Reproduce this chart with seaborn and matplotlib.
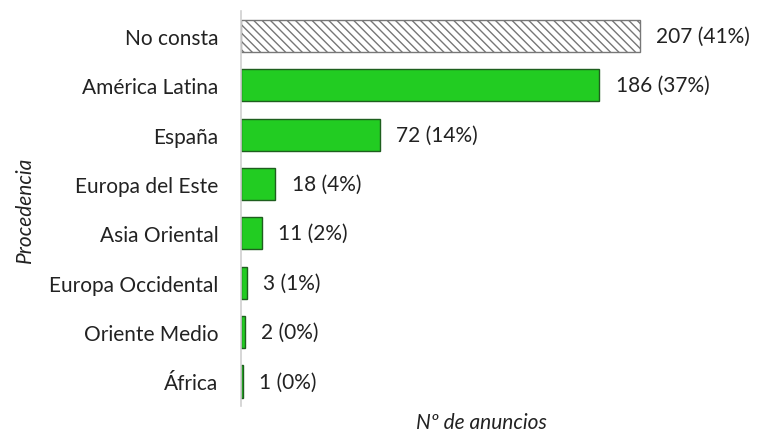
import matplotlib
matplotlib.use("Agg")
import matplotlib.pyplot as plt
import pandas as pd
import seaborn as sns

# Datos
procedencia = ["No consta", "América Latina", "España", "Europa del Este",
               "Asia Oriental", "Europa Occidental", "Oriente Medio", "África"]
anuncios = [207, 186, 72, 18, 11, 3, 2, 1]
porcentaje = [41, 37, 14, 4, 2, 1, 0, 0]

sns.set_style("white")
plt.rcParams['font.family'] = ['Lato', 'DejaVu Sans']
plt.rcParams['hatch.color'] = '#777777'
plt.rcParams['hatch.linewidth'] = 1.0

df = pd.DataFrame({"Procedencia": procedencia, "Anuncios": anuncios})

fig = plt.figure(figsize=(7.57, 4.35), dpi=100)
ax = fig.add_axes([0.318, 0.064, 0.637, 0.908])

sns.barplot(data=df, x="Anuncios", y="Procedencia", orient="h",
            color="#22cc22", width=0.65, saturation=1,
            edgecolor="#1e5e1e", linewidth=1.0, ax=ax)

# la barra "No consta" va rayada en gris
first = ax.patches[0]
first.set_facecolor("white")
first.set_edgecolor("#777777")
first.set_hatch("\\\\\\\\")

fs = 15
for p, n, pc in zip(ax.patches, anuncios, porcentaje):
    ax.text(p.get_width() + 8.5, p.get_y() + p.get_height() / 2,
            f"{n} ({pc}%)", va="center", ha="left", fontsize=fs, color="#222222")

ax.set_xlim(0, 250)
ax.set_ylim(7.5, -0.5)
ax.set_xticks([])
ax.tick_params(axis="y", length=0, pad=16, labelsize=fs, labelcolor="#222222")
for s in ["top", "right", "bottom"]:
    ax.spines[s].set_visible(False)
ax.spines["left"].set_color("#d0d0d0")
ax.spines["left"].set_linewidth(1.2)

ax.set_xlabel("Nº de anuncios", fontstyle="italic", fontsize=fs, color="#222222", labelpad=4)
ax.set_ylabel("Procedencia", fontstyle="italic", fontsize=fs, color="#222222", labelpad=10)

fig.savefig("out.png", dpi=100)
